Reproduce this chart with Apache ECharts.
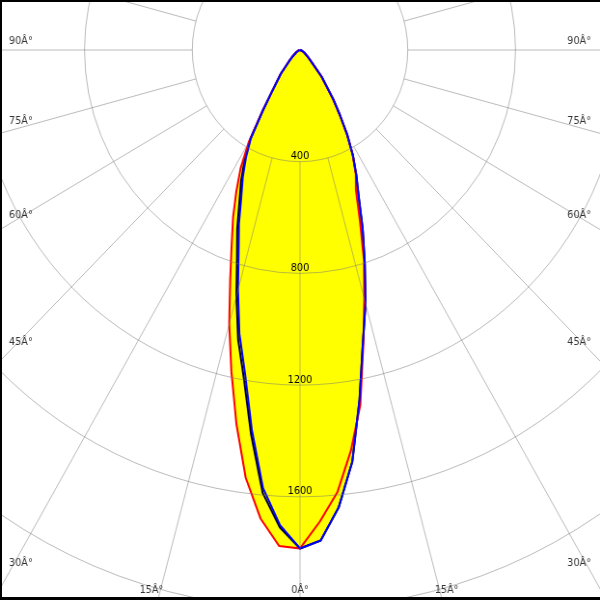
<!DOCTYPE html>
<html><head><meta charset="utf-8">
<script src="https://cdn.jsdelivr.net/npm/echarts/dist/echarts.min.js"></script>
<style>
html,body{margin:0;padding:0;width:600px;height:600px;overflow:hidden;background:#fff}
#wrap{position:absolute;left:0;top:0;width:622px;height:600px;transform:scaleX(0.964630);transform-origin:0 0}
#c{width:622px;height:600px}
#frame{position:absolute;left:0;top:0;width:600px;height:600px;box-sizing:border-box;border-top:2px solid #000;border-left:2px solid #000;border-bottom:3px solid #000;pointer-events:none}
</style></head><body>
<div id="wrap"><div id="c"></div></div><div id="frame"></div>
<script>
// ---- data (angle from nadir, degrees; intensity in cd) ----
const angles     = [0, 2.5, 5, 7.5, 10, 12.5, 15, 17.5, 20, 22.5, 25, 27.5, 30, 32.5, 35, 40, 45, 50, 60, 70, 80, 90];
const redLeft    = [1785, 1778, 1684, 1545, 1360, 1178, 1015, 862, 742, 650, 560, 478, 380, 258, 182, 112, 62, 38, 18, 8, 3, 0];
const redRight   = [1785, 1690, 1590, 1447, 1290, 1085, 922, 790, 650, 542, 490, 423, 350, 272, 212, 122, 58, 37, 17, 7, 2, 0];
const blueLeft   = [1785, 1703, 1575, 1371, 1176, 1040, 890, 758, 663, 570, 503, 435, 365, 255, 180, 110, 58, 36, 16, 7, 2, 0];
const blueRight  = [1785, 1758, 1645, 1487, 1272, 1078, 940, 800, 680, 570, 495, 425, 350, 275, 215, 125, 60, 38, 18, 8, 3, 0];
const blackLeft  = [1785, 1712, 1592, 1390, 1198, 1062, 912, 778, 682, 588, 518, 446, 372, 259, 182, 111, 58, 36, 16, 7, 2, 0];
const blackRight = [1785, 1758, 1645, 1487, 1272, 1078, 940, 800, 680, 570, 495, 425, 350, 275, 215, 125, 60, 38, 18, 8, 3, 0];
const tickAngles = [0, 15, 30, 45, 60, 75, 90];
const tickLabels = ["0\u00C2\u00B0", "15\u00C2\u00B0", "30\u00C2\u00B0", "45\u00C2\u00B0", "60\u00C2\u00B0", "75\u00C2\u00B0", "90\u00C2\u00B0"];
const radiusMax = 2400, radiusStep = 400;

// ---- layout ----
const W = 622, S = 600 / W;
const CX = 311, CY = 50;
const K = 111.7 / 400;            // px per cd
const R_OUT = radiusMax * K;
const R_IN = radiusStep * K;

function curve(left, right) {
  const pts = [];
  for (let i = angles.length - 1; i >= 0; i--) pts.push([right[i], 360 - angles[i]]);
  for (let i = 1; i < angles.length; i++) pts.push([left[i], angles[i]]);
  return pts;
}

// angle labels anchored where each ray meets the picture edge
const labelPts = [];
tickAngles.forEach((a, i) => {
  const txt = tickLabels[i];
  const rad = a * Math.PI / 180;
  if (a < 30) {
    const R = (590 - CY) / Math.cos(rad);
    if (a === 0) {
      labelPts.push({value: [R / K, 0], label: {formatter: txt, align: 'center', offset: [0, 0]}});
    } else {
      labelPts.push({value: [R / K, a], label: {formatter: txt, align: 'center', offset: [-9 / S, 0]}});
      labelPts.push({value: [R / K, 360 - a], label: {formatter: txt, align: 'center', offset: [7 / S, 0]}});
    }
  } else {
    const R = (CX - 9 / S) / Math.sin(rad);
    labelPts.push({value: [R / K, a], label: {formatter: txt, align: 'left', offset: [0, -9]}});
    labelPts.push({value: [R / K, 360 - a], label: {formatter: txt, align: 'right', offset: [0, -9]}});
  }
});

const gridColor = 'rgba(120,120,120,0.5)';
const font = 'DejaVu Sans';

const chart = echarts.init(document.getElementById('c'), null, {renderer: 'canvas'});
const areaStyle = {color: '#ffff00', opacity: 1};
chart.setOption({
  animation: false,
  backgroundColor: '#ffffff',
  polar: [
    {center: [CX, CY], radius: [R_IN, R_OUT]},
    {center: [CX, CY], radius: [0, R_OUT]}
  ],
  angleAxis: [
    {polarIndex: 0, type: 'value', min: 0, max: 360, interval: 15, startAngle: 270, clockwise: true, z: 10,
     axisLine: {show: false}, axisTick: {show: false}, axisLabel: {show: false},
     splitLine: {show: true, lineStyle: {color: gridColor, width: 1}}},
    {polarIndex: 1, type: 'value', min: 0, max: 360, interval: 15, startAngle: 270, clockwise: true, z: 10,
     axisLine: {show: false}, axisTick: {show: false}, axisLabel: {show: false}, splitLine: {show: false}}
  ],
  radiusAxis: [
    {polarIndex: 0, type: 'value', min: 0, max: radiusMax, show: false},
    {polarIndex: 1, type: 'value', min: 0, max: radiusMax, interval: radiusStep, z: 10,
     axisLine: {show: false}, axisTick: {show: false},
     axisLabel: {show: true, showMinLabel: false, showMaxLabel: false, color: '#000', fontFamily: font, fontSize: 10,
                 margin: 0, align: 'center', verticalAlign: 'bottom', formatter: v => String(v)},
     splitLine: {show: true, lineStyle: {color: gridColor, width: 1}}}
  ],
  series: [
    {type: 'line', coordinateSystem: 'polar', polarIndex: 1, data: curve(redLeft, redRight), symbol: 'none', z: 2,
     lineStyle: {width: 0, opacity: 0}, areaStyle: areaStyle, silent: true},
    {type: 'line', coordinateSystem: 'polar', polarIndex: 1, data: curve(blueLeft, blueRight), symbol: 'none', z: 2,
     lineStyle: {width: 0, opacity: 0}, areaStyle: areaStyle, silent: true},
    {type: 'line', coordinateSystem: 'polar', polarIndex: 1, data: curve(blackLeft, blackRight), symbol: 'none', z: 3,
     lineStyle: {width: 2, color: '#000000'}, silent: true},
    {type: 'line', coordinateSystem: 'polar', polarIndex: 1, data: curve(redLeft, redRight), symbol: 'none', z: 4,
     lineStyle: {width: 2, color: '#ff0000'}, silent: true},
    {type: 'line', coordinateSystem: 'polar', polarIndex: 1, data: curve(blueLeft, blueRight), symbol: 'none', z: 5,
     lineStyle: {width: 2, color: '#0000ff'}, silent: true},
    {type: 'scatter', coordinateSystem: 'polar', polarIndex: 1, data: labelPts, symbolSize: 1, z: 12, silent: true,
     itemStyle: {color: 'rgba(0,0,0,0)'},
     label: {show: true, position: 'inside', color: '#000', fontFamily: font, fontSize: 10, verticalAlign: 'middle'}}
  ]
});
</script></body></html>
